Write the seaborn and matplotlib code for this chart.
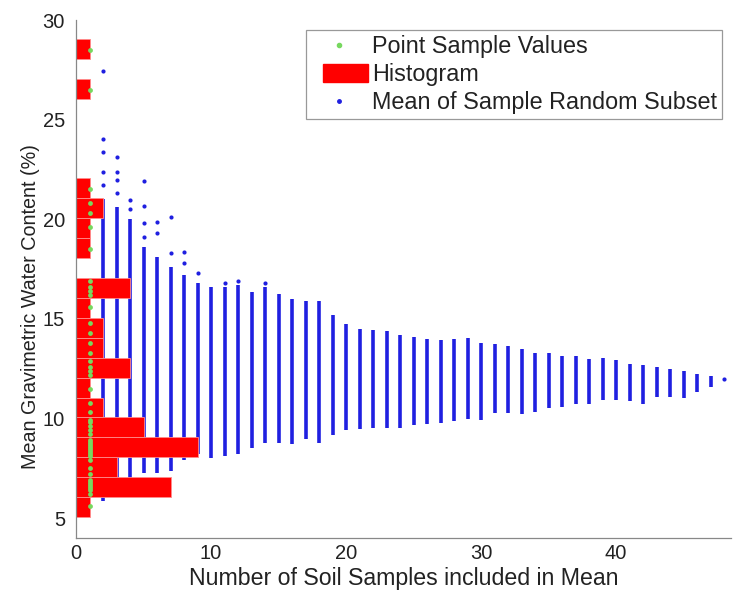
import matplotlib
matplotlib.use("Agg")
import matplotlib.pyplot as plt
import seaborn as sns
import numpy as np
import pandas as pd
from matplotlib.patches import Patch, Rectangle
from matplotlib.lines import Line2D
from matplotlib.legend_handler import HandlerPatch

# ---- data ----
sample_values = [5.6,
                 6.2, 6.4, 6.5, 6.6, 6.7, 6.8, 6.9,
                 7.2, 7.5, 7.9,
                 8.1, 8.2, 8.3, 8.4, 8.5, 8.6, 8.7, 8.8, 8.9,
                 9.2, 9.4, 9.6, 9.8, 9.9,
                 10.3, 10.8,
                 11.5,
                 12.2, 12.4, 12.6, 12.9,
                 13.3, 13.8,
                 14.3, 14.8,
                 15.6,
                 16.2, 16.4, 16.6, 16.9,
                 18.5,
                 19.6,
                 20.3, 20.8,
                 21.5,
                 26.5,
                 28.5]

subset_n = list(range(2, 49))
subset_mean_low = [5.85, 6.6, 7.0, 7.25, 7.25, 7.35, 7.9, 8.2, 8.0, 8.1,
                   8.2, 8.5, 8.75, 8.75, 8.7, 8.95, 8.75, 9.15, 9.4, 9.45,
                   9.5, 9.5, 9.5, 9.65, 9.7, 9.75, 9.85, 9.95, 9.9, 10.25,
                   10.25, 10.2, 10.3, 10.55, 10.6, 10.72, 10.72, 10.92, 10.92, 10.89,
                   10.75, 11.09, 11.09, 11.05, 11.35, 11.6, 12.0]
subset_mean_high = [21.0, 20.6, 20.0, 18.6, 18.1, 17.6, 17.2, 16.8, 16.6, 16.6,
                    16.7, 16.35, 16.6, 16.27, 16.0, 15.9, 15.9, 15.2, 14.75, 14.5,
                    14.45, 14.4, 14.2, 14.1, 14.0, 13.95, 14.0, 14.05, 13.8, 13.75,
                    13.65, 13.5, 13.3, 13.3, 13.15, 13.15, 13.0, 13.05, 12.95, 12.75,
                    12.7, 12.6, 12.5, 12.4, 12.25, 12.15, 12.0]

# isolated subset means (sparse extremes)
sparse_n = [2, 2, 2, 2, 2,
            3, 3, 3, 3,
            4, 4,
            5, 5, 5, 5,
            6, 6,
            7, 7,
            8, 8,
            9, 11, 12, 14, 48]
sparse_mean = [27.45, 24.05, 23.35, 22.35, 21.7,
               23.1, 22.35, 21.95, 21.3,
               20.95, 20.5,
               21.9, 20.65, 19.8, 19.1,
               19.85, 19.3,
               20.1, 18.3,
               18.35, 17.8,
               17.3, 16.8, 16.92, 16.8, 12.0]

x_ticks = [0, 10, 20, 30, 40]
y_ticks = [5, 10, 15, 20, 25, 30]

BLUE = "#1f1fe0"
RED = "#ff0000"
GREEN = "#77d85f"

sns.set_style("white")
plt.rcParams['font.family'] = ['Liberation Sans', 'DejaVu Sans']

fig = plt.figure(figsize=(7.4, 5.97), dpi=100)
ax = fig.add_axes([76 / 740, 1 - 538 / 597, (730.75 - 76) / 740, 518 / 597])

# means of random subsets
ax.vlines(subset_n, subset_mean_low, subset_mean_high, colors=BLUE,
          linewidth=2.6, zorder=1)
sns.scatterplot(x=sparse_n, y=sparse_mean, color=BLUE, s=9, linewidth=0,
                ax=ax, zorder=1, legend=False)

# histogram of the sample values (horizontal)
sns.histplot(y=sample_values, binwidth=1, binrange=(5.05, 29.05),
             color=RED, alpha=1, edgecolor="#ff8c8c", linewidth=0.6,
             ax=ax, zorder=2)

# point sample values at x = 1
sns.scatterplot(x=[1] * len(sample_values), y=sample_values, color=GREEN,
                s=12, linewidth=0, ax=ax, zorder=3, legend=False)

ax.set_xlim(0, 48.5)
ax.set_ylim(4, 30)
ax.set_xticks(x_ticks)
ax.set_yticks(y_ticks)
ax.tick_params(direction='in', length=4, width=0.8, colors="#888888",
               labelcolor="#222222", labelsize=14.5)
ax.tick_params(axis='y', pad=8)
ax.tick_params(axis='x', pad=4)
for side in ['top', 'right']:
    ax.spines[side].set_visible(False)
for side in ['left', 'bottom']:
    ax.spines[side].set_color("#888888")
    ax.spines[side].set_linewidth(0.9)

ax.set_xlabel("Number of Soil Samples included in Mean", fontsize=16.7,
              color="#222222", labelpad=3)
ax.set_ylabel("Mean Gravimetric Water Content (%)", fontsize=14.2,
              color="#222222")
ax.yaxis.set_label_coords(-0.055, 0.446)


def red_patch(legend, orig_handle, xdescent, ydescent, width, height, fontsize):
    w = 32.4
    h = 13.0
    return Rectangle((width - xdescent - w, -ydescent + (height - h) / 2), w, h)


handles = [Line2D([], [], linestyle='none', marker='o', markersize=3,
                  color=GREEN),
           Patch(facecolor=RED, edgecolor=RED),
           Line2D([], [], linestyle='none', marker='o', markersize=2.5,
                  color=BLUE)]
labels = ["Point Sample Values", "Histogram", "Mean of Sample Random Subset"]
leg = ax.legend(handles, labels, loc='upper right', fontsize=16.8,
                frameon=True, fancybox=False, framealpha=1,
                edgecolor="#999999", borderpad=0.2, labelspacing=0.22,
                handlelength=2.49, handletextpad=0.17,
                bbox_to_anchor=((722 - 76) / 654.75, (538 - 30) / 518),
                borderaxespad=0.0,
                handler_map={Patch: HandlerPatch(patch_func=red_patch)})
leg.get_frame().set_linewidth(0.9)
for t in leg.get_texts():
    t.set_color("#222222")

fig.savefig("out.png", dpi=100)
